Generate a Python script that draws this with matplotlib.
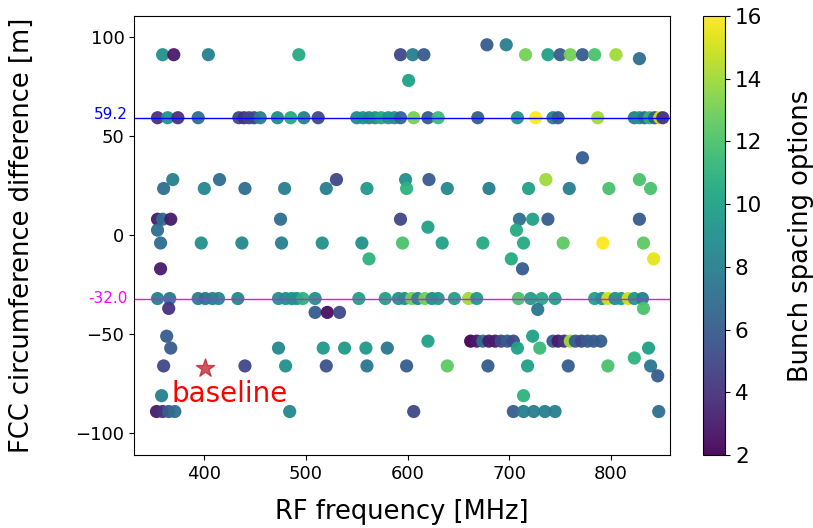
import numpy as np
import matplotlib
matplotlib.use("Agg")
import matplotlib.pyplot as plt

# RF frequency [MHz], circumference difference [m], bunch spacing option
# grouped per horizontal band
freq = [678, 697,
        359, 370, 404, 493, 593, 605, 616, 716, 738, 750, 760, 772, 784, 805, 828,
        601,
        354, 364, 374, 394, 434, 439, 444, 449, 455, 472, 485, 498, 512, 550, 556, 562,
        568, 574, 581, 587, 593, 606, 620, 630, 669, 708, 726, 743, 748, 787, 823, 828,
        833, 838, 843, 848, 851,
        772,
        369, 415, 530, 598, 621, 736, 828,
        360, 400, 440, 479, 520, 560, 599, 639, 680, 719, 759, 798, 839,
        354, 359, 367, 475, 593, 710, 723, 738, 828,
        620, 354, 707,
        357, 397, 437, 476, 516, 555, 595, 634, 674, 714, 753, 792, 832,
        562, 702, 842,
        357, 713,
        354, 366, 394, 401, 408, 414, 433, 473, 480, 486, 491, 497, 509, 552, 578, 591,
        597, 604, 610, 617, 624, 630, 646, 660, 668, 709, 721, 732, 745, 784, 791, 797,
        804, 810, 817, 823, 831,
        365, 728, 832,
        509, 521, 533,
        363, 723,
        620, 662, 668, 674, 680, 686, 692, 698, 704, 743, 748, 754, 760, 765, 771, 777,
        783, 790,
        367, 473, 517, 538, 559, 580, 708, 730, 837,
        823,
        360, 440, 480, 520, 560, 599, 639, 679, 718, 758, 797, 839,
        846,
        358, 714,
        353, 359, 365, 371, 484, 606, 704, 714, 724, 735, 745, 847]

diff = [96, 96,
        91, 91, 91, 91, 91, 91, 91, 91, 91, 91, 91, 91, 91, 91, 89,
        78,
        59.2, 59.2, 59.2, 59.2, 59.2, 59.2, 59.2, 59.2, 59.2, 59.2, 59.2, 59.2, 59.2,
        59.2, 59.2, 59.2, 59.2, 59.2, 59.2, 59.2, 59.2, 59.2, 59.2, 59.2, 59.2, 59.2,
        59.2, 59.2, 59.2, 59.2, 59.2, 59.2, 59.2, 59.2, 59.2, 59.2, 59.2,
        39,
        28, 28, 28, 28, 28, 28, 28,
        23.5, 23.5, 23.5, 23.5, 23.5, 23.5, 23.5, 23.5, 23.5, 23.5, 23.5, 23.5, 23.5,
        8, 8, 8, 8, 8, 8, 8, 8, 8,
        4, 2.5, 2.5,
        -4, -4, -4, -4, -4, -4, -4, -4, -4, -4, -4, -4, -4,
        -12, -12, -12,
        -17, -17,
        -32, -32, -32, -32, -32, -32, -32, -32, -32, -32, -32, -32, -32, -32, -32, -32,
        -32, -32, -32, -32, -32, -32, -32, -32, -32, -32, -32, -32, -32, -32, -32, -32,
        -32, -32, -32, -32, -32,
        -37, -37.5, -37,
        -39, -39, -39,
        -51, -51,
        -53.5, -53.5, -53.5, -53.5, -53.5, -53.5, -53.5, -53.5, -53.5, -53.5, -53.5,
        -53.5, -53.5, -53.5, -53.5, -53.5, -53.5, -53.5,
        -57, -57, -57, -57, -57, -57, -57, -57, -57,
        -62,
        -66, -66, -66, -66, -66, -66, -66, -66, -66, -66, -66, -66,
        -71,
        -81, -81,
        -89, -89, -89, -89, -89, -89, -89, -89, -89, -89, -89, -89]

spacing = [6, 8,
           9, 3, 8, 10.5, 5, 8, 6, 13, 10, 6, 13, 6, 12, 14, 7,
           10,
           4, 9, 4, 7, 5, 4, 5, 5, 8, 8.5, 10.5, 8, 5, 8.5, 9, 8.5,
           9, 10.5, 9, 9, 6.5, 13, 6, 11.5, 6, 9, 16, 8, 6, 14, 8, 9,
           7, 11, 6, 15, 4,
           6,
           8, 7, 5, 9, 6, 14, 12,
           7, 8.5, 7, 8, 8, 9.5, 11, 8.5, 8, 10, 8, 12, 12,
           3, 7, 3, 7, 5, 7, 10, 6, 6,
           10, 7, 10.5,
           7, 9, 8.5, 8, 9, 9, 12, 10, 10.5, 10.5, 12.5, 16, 12.5,
           11, 10.5, 15.5,
           3, 6,
           8, 7.5, 8, 7.5, 8, 8.5, 8.5, 9, 9, 9, 9, 11, 9, 10, 10, 9,
           9, 13, 8.5, 13, 9, 9.5, 10, 14, 9.5, 12, 10, 10.5, 10, 10, 9, 15,
           9, 9.5, 15, 9.5, 8,
           4, 7.5, 12,
           6, 2.5, 5,
           6, 10,
           10, 2, 3, 7, 3, 3, 5, 6, 5, 6, 3, 4, 14, 6, 5, 6,
           6, 6,
           6, 8.5, 9.5, 9.5, 9.5, 7.5, 10, 11.5, 10,
           11,
           5, 5, 9, 5.5, 7.5, 6, 12.5, 6, 10, 6, 12, 7.5,
           6,
           8, 11,
           3, 4, 6, 7, 8.5, 5, 6, 8, 8, 8, 8, 7]

baseline_freq = 401
baseline_diff = -67
line_upper = 59.2
line_lower = -32.0

fig = plt.figure(figsize=(8.13, 5.28), dpi=100)
ax = fig.add_axes([0.165, 0.138, 0.659, 0.832])
cax = fig.add_axes([0.865, 0.138, 0.027, 0.832])

sc = ax.scatter(freq, diff, c=spacing, cmap='viridis', vmin=2, vmax=16,
                s=90, edgecolors='none', alpha=0.95)
ax.scatter([baseline_freq], [baseline_diff], marker='*', s=190, color='#c0202a', alpha=0.75)
ax.text(368, -84, 'baseline', color='red', fontsize=20, va='baseline')

ax.axhline(line_upper, color='blue', lw=1)
ax.axhline(line_lower, color='magenta', lw=1)
trans = ax.get_yaxis_transform()
ax.text(-0.012, line_upper + 1.5, f'{line_upper:.1f}', color='blue', fontsize=11,
        ha='right', va='center', transform=trans)
ax.text(-0.012, line_lower, f'{line_lower:.1f}', color='magenta', fontsize=11,
        ha='right', va='center', transform=trans)

ax.set_xlim(331, 858)
ax.set_ylim(-111, 110.6)
ax.set_xticks([400, 500, 600, 700, 800])
ax.set_yticks([-100, -50, 0, 50, 100])
ax.tick_params(labelsize=13)
ax.set_xlabel('RF frequency [MHz]', fontsize=18.5)
ax.set_ylabel('FCC circumference difference [m]', fontsize=18.5)
ax.xaxis.set_label_coords(0.5, -0.1)
ax.yaxis.set_label_coords(-0.185, 0.5)

cb = fig.colorbar(sc, cax=cax)
cb.set_ticks([2, 4, 6, 8, 10, 12, 14, 16])
cb.ax.tick_params(labelsize=15.5)
cb.set_label('Bunch spacing options', fontsize=18.5)
cb.ax.yaxis.set_label_coords(3.85, 0.5)

fig.savefig('out.png', dpi=100)
